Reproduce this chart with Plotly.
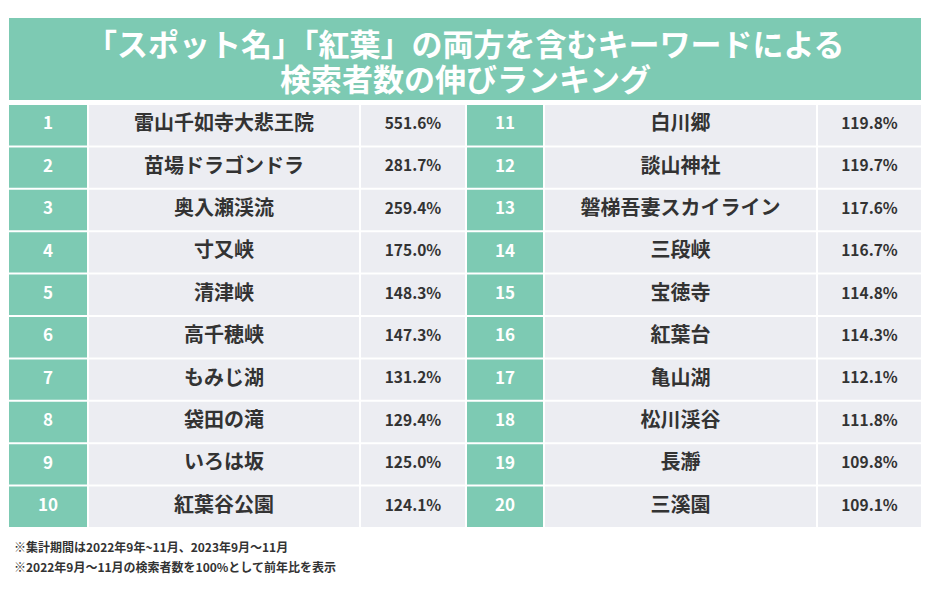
import plotly.graph_objects as go

title_lines = ["「スポット名」「紅葉」の両方を含むキーワードによる", "検索者数の伸びランキング"]
ranks = list(range(1, 21))
spots = ["雷山千如寺大悲王院", "苗場ドラゴンドラ", "奥入瀬渓流", "寸又峡", "清津峡",
         "高千穂峡", "もみじ湖", "袋田の滝", "いろは坂", "紅葉谷公園",
         "白川郷", "談山神社", "磐梯吾妻スカイライン", "三段峡", "宝徳寺",
         "紅葉台", "亀山湖", "松川渓谷", "長瀞", "三溪園"]
growth = [551.6, 281.7, 259.4, 175.0, 148.3, 147.3, 131.2, 129.4, 125.0, 124.1,
          119.8, 119.7, 117.6, 116.7, 114.8, 114.3, 112.1, 111.8, 109.8, 109.1]
notes = ["※集計期間は2022年9年~11月、2023年9月～11月",
         "※2022年9月～11月の検索者数を100%として前年比を表示"]

W, H = 934, 591
OFF = 8  # page body margin
TEAL = "#7dcab3"
GRAY = "#ecedf2"
TXT = "#333333"
FONT = "Noto Sans CJK JP"

TOP = 104.0
ROW_H = 42.4
blocks = [
    [(9, 87), (89, 359), (361, 465)],
    [(467, 543), (545, 816), (818, 921)],
]

fig = go.Figure()
shapes = []

shapes.append(dict(type="rect", xref="x", yref="y", x0=9, x1=921, y0=18, y1=100,
                   fillcolor=TEAL, line_width=0, layer="below"))

rank_x, rank_y, rank_t = [], [], []
name_x, name_y, name_t = [], [], []
val_x, val_y, val_t = [], [], []
for i, (r, s, g) in enumerate(zip(ranks, spots, growth)):
    b = blocks[i // 10]
    row = i % 10
    y0 = TOP + row * ROW_H + 1
    y1 = TOP + (row + 1) * ROW_H - 1
    yc = (y0 + y1) / 2
    for k, (xa, xb) in enumerate(b):
        shapes.append(dict(type="rect", xref="x", yref="y", x0=xa, x1=xb, y0=y0, y1=y1,
                           fillcolor=TEAL if k == 0 else GRAY, line_width=0, layer="below"))
    rank_x.append((b[0][0] + b[0][1]) / 2); rank_y.append(yc); rank_t.append(str(r))
    name_x.append((b[1][0] + b[1][1]) / 2); name_y.append(yc); name_t.append(s)
    val_x.append((b[2][0] + b[2][1]) / 2); val_y.append(yc); val_t.append(f"{g:.1f}%")

fig.add_trace(go.Scatter(x=rank_x, y=rank_y, text=rank_t, mode="text",
                         textfont=dict(family=FONT, size=17, color="white", weight="bold"),
                         hoverinfo="skip"))
fig.add_trace(go.Scatter(x=name_x, y=name_y, text=name_t, mode="text",
                         textfont=dict(family=FONT, size=20, color=TXT, weight="bold"),
                         hoverinfo="skip"))
fig.add_trace(go.Scatter(x=val_x, y=val_y, text=val_t, mode="text",
                         textfont=dict(family=FONT, size=15.5, color=TXT, weight="bold"),
                         hoverinfo="skip"))

annotations = []
for j, line in enumerate(title_lines):
    annotations.append(dict(x=465, y=42 + j * 35, xref="x", yref="y", text=line,
                            showarrow=False, xanchor="center", yanchor="middle",
                            font=dict(family=FONT, size=31, color="white", weight="bold")))
for j, line in enumerate(notes):
    annotations.append(dict(x=12, y=546 + j * 20, xref="x", yref="y", text=line,
                            showarrow=False, xanchor="left", yanchor="middle",
                            font=dict(family=FONT, size=12, color=TXT, weight="bold")))

fig.update_layout(
    width=W - OFF, height=H - OFF, margin=dict(l=0, r=0, t=0, b=0),
    paper_bgcolor="white", plot_bgcolor="white", showlegend=False,
    shapes=shapes, annotations=annotations,
    xaxis=dict(range=[OFF, W], visible=False, fixedrange=True),
    yaxis=dict(range=[H, OFF], visible=False, fixedrange=True),
)
fig.write_html("out.html")
